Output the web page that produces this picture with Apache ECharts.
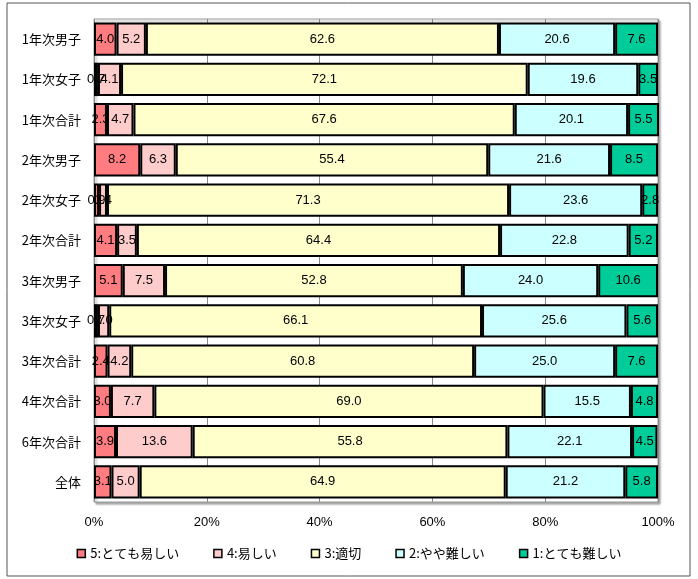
<!DOCTYPE html>
<html><head><meta charset="utf-8">
<script src="https://cdn.jsdelivr.net/npm/echarts@6/dist/echarts.min.js"></script>
<style>html,body{margin:0;padding:0;background:#fff}#c{width:698px;height:579px}</style>
</head><body><div id="c"></div>
<script>
const categories = ['1年次男子','1年次女子','1年次合計','2年次男子','2年次女子','2年次合計','3年次男子','3年次女子','3年次合計','4年次合計','6年次合計','全体'];
const seriesNames = ['5:とても易しい','4:易しい','3:適切','2:やや難しい','1:とても難しい'];
const v5 = [4.0, 0.7, 2.3, 8.2, 0.9, 4.1, 5.1, 0.7, 2.4, 3.0, 3.9, 3.1];
const v4 = [5.2, 4.1, 4.7, 6.3, 1.4, 3.5, 7.5, 2.0, 4.2, 7.7, 13.6, 5.0];
const v3 = [62.6, 72.1, 67.6, 55.4, 71.3, 64.4, 52.8, 66.1, 60.8, 69.0, 55.8, 64.9];
const v2 = [20.6, 19.6, 20.1, 21.6, 23.6, 22.8, 24.0, 25.6, 25.0, 15.5, 22.1, 21.2];
const v1 = [7.6, 3.5, 5.5, 8.5, 2.8, 5.2, 10.6, 5.6, 7.6, 4.8, 4.5, 5.8];
const colors = ['#FF7C80', '#FFCCCC', '#FFFFCC', '#CCFFFF', '#00CC99'];
const values = [v5, v4, v3, v2, v1];

const chart = echarts.init(document.getElementById('c'));
const font = '"Liberation Sans", Arial, "Noto Sans CJK JP", sans-serif';
chart.setOption({
  animation: false,
  textStyle: { fontFamily: font },
  graphic: [{
    type: 'rect', shape: { x: 7, y: 3, width: 683, height: 573 },
    style: { fill: 'none', stroke: '#555', lineWidth: 1 }, silent: true, z: -10
  }],
  grid: { left: 94, right: 40, top: 19, bottom: 77, show: true, borderColor: '#999', borderWidth: 1,
    shadowColor: 'rgba(0,0,0,0.35)', shadowOffsetX: 2, shadowOffsetY: 2, shadowBlur: 2, backgroundColor: '#fff' },
  legend: {
    bottom: 14, left: 'center', itemWidth: 8, itemHeight: 8, itemGap: 34,
    icon: 'rect',
    textStyle: { fontSize: 13, color: '#000', fontFamily: '"Noto Sans CJK JP", sans-serif' },
    data: seriesNames.map((n, i) => ({ name: n, itemStyle: { color: colors[i], borderColor: '#000', borderWidth: 1.5 } }))
  },
  xAxis: {
    type: 'value', min: 0, max: 100, interval: 20,
    axisLabel: { formatter: '{value}%', fontSize: 13, color: '#000', margin: 14 },
    axisLine: { show: false }, axisTick: { show: false },
    splitLine: { show: true, lineStyle: { color: '#888', width: 1 } }
  },
  yAxis: {
    type: 'category', data: categories, inverse: true,
    axisLabel: { fontSize: 13, color: '#000', margin: 13, fontFamily: '"Noto Sans CJK JP", sans-serif' },
    axisLine: { show: false }, axisTick: { show: false }
  },
  series: seriesNames.map((n, i) => ({
    name: n, type: 'bar', stack: 'all', data: values[i],
    barCategoryGap: '17%',
    itemStyle: { color: colors[i], borderColor: '#000', borderWidth: 2 },
    label: { show: true, position: 'inside', color: '#000', fontSize: 13,
      formatter: p => p.value.toFixed(1) }
  }))
});
</script></body></html>
